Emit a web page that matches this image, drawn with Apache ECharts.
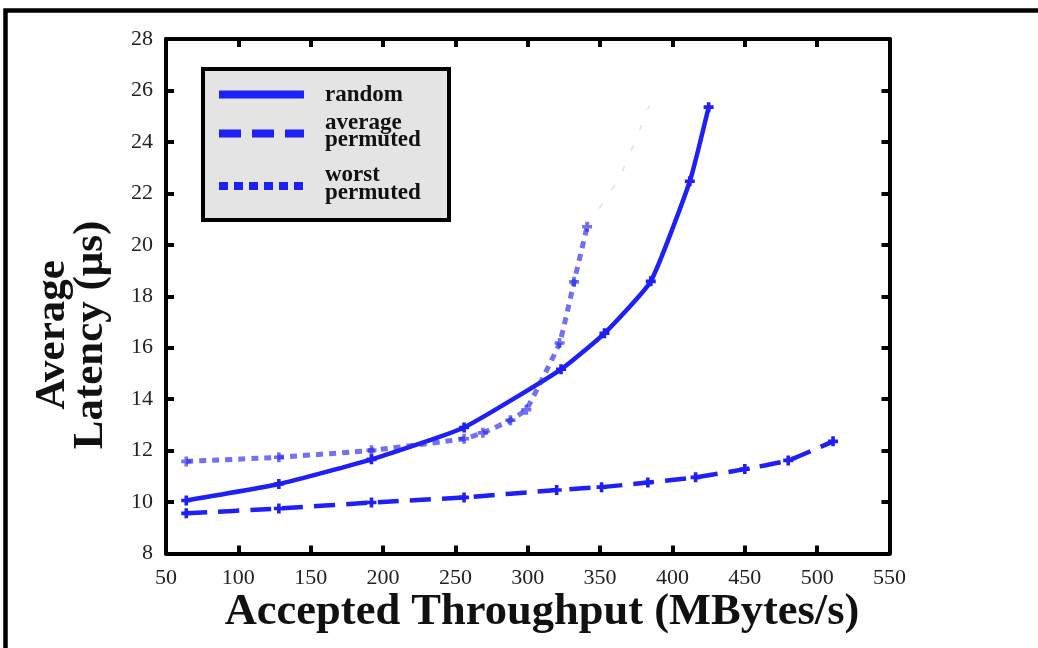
<!DOCTYPE html>
<html>
<head>
<meta charset="utf-8">
<script src="https://cdn.jsdelivr.net/npm/echarts@6/dist/echarts.min.js"></script>
<style>
html,body{margin:0;padding:0;background:#fff;}
#chart{width:1038px;height:648px;}
</style>
</head>
<body>
<div id="chart"></div>
<script>
// ---- data ----
const xMin = 50, xMax = 550, xStep = 50;
const yMin = 8, yMax = 28, yStep = 2;

const seriesNames = ['random', 'average\npermuted', 'worst\npermuted'];

const randomX = [64, 128, 192, 256, 323, 353, 385, 412, 425];
const randomY = [10.06, 10.7, 11.66, 12.9, 15.16, 16.56, 18.58, 22.47, 25.35];

const avgX = [64, 128, 192, 256, 320, 351, 383, 416, 450, 480, 511];
const avgY = [9.56, 9.75, 9.98, 10.18, 10.47, 10.58, 10.76, 10.96, 11.28, 11.62, 12.36];

const worstX = [64, 128, 192, 256, 269, 288, 299, 322, 332, 341];
const worstY = [11.58, 11.74, 12.01, 12.46, 12.69, 13.18, 13.59, 16.18, 18.56, 20.7];

// faint (barely printed) continuation of the worst-permuted curve
const worstFaintX = [341, 364, 384];
const worstFaintY = [20.7, 22.7, 25.4];

const xTitle = 'Accepted Throughput (MBytes/s)';
const yTitle = 'Average\nLatency (μs)';

// ---- build ----
const zip = (xs, ys) => xs.map((x, i) => [x, ys[i]]);
const BLUE = '#1f1ff8';
const LIGHT = 'rgba(40,40,240,0.66)';
const plus = 'path://M3.2,0H6.8V3.2H10V6.8H6.8V10H3.2V6.8H0V3.2H3.2Z';
const SERIF = '"Liberation Serif", "DejaVu Serif", serif';

const axisCommon = {
  type: 'value',
  axisLine: {show: true, lineStyle: {color: '#000', width: 4}},
  axisTick: {show: true, inside: true, length: 8, lineStyle: {color: '#000', width: 4}},
  splitLine: {show: false}
};

const chart = echarts.init(document.getElementById('chart'), null, {renderer: 'canvas'});
chart.setOption({
  animation: false,
  backgroundColor: '#fff',
  grid: {left: 166, right: 148.5, top: 39, bottom: 94.5},
  xAxis: [
    Object.assign({}, axisCommon, {
      min: xMin, max: xMax, interval: xStep, position: 'bottom',
      axisLabel: {margin: 14, color: '#222', fontFamily: SERIF, fontSize: 22}
    }),
    Object.assign({}, axisCommon, {
      min: xMin, max: xMax, interval: xStep, position: 'top',
      axisLabel: {show: false}
    })
  ],
  yAxis: [
    Object.assign({}, axisCommon, {
      min: yMin, max: yMax, interval: yStep, position: 'left',
      axisLabel: {margin: 13, color: '#222', fontFamily: SERIF, fontSize: 22}
    }),
    Object.assign({}, axisCommon, {
      min: yMin, max: yMax, interval: yStep, position: 'right',
      axisLabel: {show: false}
    })
  ],
  series: [
    {
      name: seriesNames[0], type: 'line', data: zip(randomX, randomY),
      smooth: 0.15, symbol: plus, symbolSize: 10,
      lineStyle: {color: BLUE, width: 4.5}, itemStyle: {color: BLUE}
    },
    {
      name: seriesNames[1], type: 'line', data: zip(avgX, avgY),
      smooth: 0.15, symbol: plus, symbolSize: 10,
      lineStyle: {color: BLUE, width: 4.5, type: [21, 11]}, itemStyle: {color: BLUE}
    },
    {
      name: seriesNames[2], type: 'line', data: zip(worstX, worstY),
      smooth: 0.1, symbol: plus, symbolSize: 10,
      lineStyle: {color: LIGHT, width: 5, type: [7, 6]}, itemStyle: {color: LIGHT}
    },
    {
      name: 'faint', type: 'line', data: zip(worstFaintX, worstFaintY),
      smooth: 0.2, showSymbol: false,
      lineStyle: {color: 'rgba(40,40,240,0.12)', width: 2, type: [6, 16]}
    }
  ],
  graphic: [
    // outer frame
    {type: 'rect', silent: true, z: 100,
     shape: {x: 5.5, y: 10.5, width: 1200, height: 800},
     style: {fill: 'none', stroke: '#000', lineWidth: 4.5}},
    // legend box
    {type: 'rect', z: 100, shape: {x: 203, y: 69, width: 246, height: 151},
     style: {fill: '#e4e4e4', stroke: '#000', lineWidth: 4}},
    {type: 'line', z: 101, shape: {x1: 219, y1: 94.5, x2: 304, y2: 94.5},
     style: {stroke: BLUE, lineWidth: 8}},
    {type: 'line', z: 101, shape: {x1: 219, y1: 133.5, x2: 304, y2: 133.5},
     style: {stroke: BLUE, lineWidth: 8, lineDash: [22, 11]}},
    {type: 'line', z: 101, shape: {x1: 219, y1: 186, x2: 304, y2: 186},
     style: {stroke: BLUE, lineWidth: 8, lineDash: [9, 6]}},
    {type: 'text', z: 101, x: 325, y: 95,
     style: {text: 'random', font: 'bold 23px ' + SERIF, fill: '#111', textVerticalAlign: 'middle'}},
    {type: 'text', z: 101, x: 325, y: 132,
     style: {text: seriesNames[1], font: 'bold 23px ' + SERIF, fill: '#111', textVerticalAlign: 'middle', lineHeight: 17}},
    {type: 'text', z: 101, x: 325, y: 184,
     style: {text: seriesNames[2], font: 'bold 23px ' + SERIF, fill: '#111', textVerticalAlign: 'middle', lineHeight: 18}},
    // axis titles
    {type: 'text', z: 101, x: 542, y: 612,
     style: {text: xTitle, font: 'bold 44.5px ' + SERIF, fill: '#111', textAlign: 'center', textVerticalAlign: 'middle'}},
    {type: 'text', z: 101, x: 72, y: 335, rotation: Math.PI / 2,
     style: {text: yTitle, font: 'bold 43px ' + SERIF, fill: '#111', textAlign: 'center', textVerticalAlign: 'middle', lineHeight: 38}}
  ]
});
</script>
</body>
</html>
